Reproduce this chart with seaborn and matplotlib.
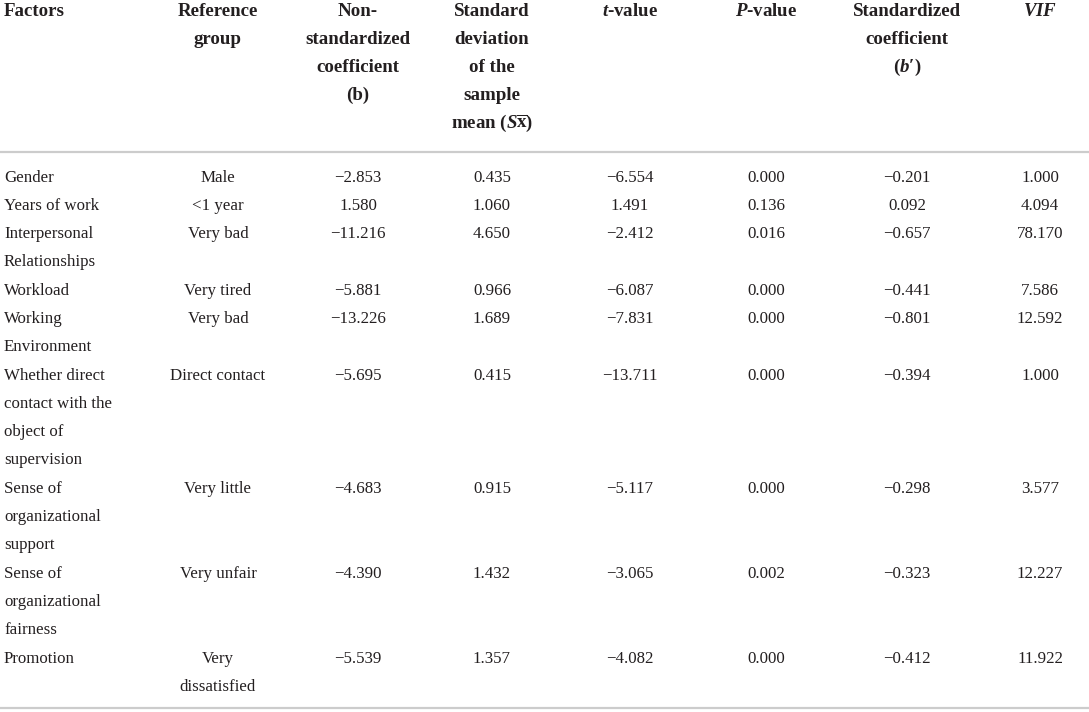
import matplotlib
matplotlib.use("Agg")
import matplotlib.pyplot as plt
import seaborn as sns

sns.set_theme(style="white")
plt.rcParams['font.family'] = ['Liberation Serif', 'DejaVu Serif']
plt.rcParams['mathtext.fontset'] = 'custom'
plt.rcParams['mathtext.rm'] = 'Liberation Serif:bold'
plt.rcParams['mathtext.it'] = 'Liberation Serif:italic:bold'
plt.rcParams['mathtext.bf'] = 'Liberation Serif:bold'

# ---- data ----
headers = [
    "Factors",
    "Reference\ngroup",
    "Non-\nstandardized\ncoefficient\n(b)",
    "Standard\ndeviation\nof the\nsample\nmean ($S\\overline{\\mathrm{x}}$)",
    "$t$-value",
    "$P$-value",
    "Standardized\ncoefficient\n($b$\u2032)",
    "$VIF$",
]
factors = [
    "Gender",
    "Years of work",
    "Interpersonal\nRelationships",
    "Workload",
    "Working\nEnvironment",
    "Whether direct\ncontact with the\nobject of\nsupervision",
    "Sense of\norganizational\nsupport",
    "Sense of\norganizational\nfairness",
    "Promotion",
]
reference_group = [
    "Male", "<1 year", "Very bad", "Very tired", "Very bad",
    "Direct contact", "Very little", "Very unfair", "Very\ndissatisfied",
]
b_coef = [-2.853, 1.580, -11.216, -5.881, -13.226, -5.695, -4.683, -4.390, -5.539]
sd_mean = [0.435, 1.060, 4.650, 0.966, 1.689, 0.415, 0.915, 1.432, 1.357]
t_value = [-6.554, 1.491, -2.412, -6.087, -7.831, -13.711, -5.117, -3.065, -4.082]
p_value = [0.000, 0.136, 0.016, 0.000, 0.000, 0.000, 0.000, 0.002, 0.000]
std_coef = [-0.201, 0.092, -0.657, -0.441, -0.801, -0.394, -0.298, -0.323, -0.412]
vif = [1.000, 4.094, 78.170, 7.586, 12.592, 1.000, 3.577, 12.227, 11.922]

# ---- layout ----
W, H = 1089, 712
fig = plt.figure(figsize=(W / 100, H / 100), dpi=100)
ax = fig.add_axes([0, 0, 1, 1])
ax.set_xlim(0, W)
ax.set_ylim(H, 0)
ax.axis("off")

col_x = [4, 218, 358, 492, 630, 766, 907, 1040]
txt_color = "#231f20"
head_size = 13.6
body_size = 12.2
line_h = 28.3


def fmt(v):
    s = f"{v:.3f}"
    return s.replace("-", "\u2212")


# header
for i, h in enumerate(headers):
    for j, line in enumerate(h.split("\n")):
        ax.text(col_x[i], 16.5 + j * 27.8, line, ha="left" if i == 0 else "center",
                va="baseline", fontsize=head_size, fontweight="bold", color=txt_color)

ax.plot([0, W], [151.5, 151.5], color="#cccccc", lw=1.6, solid_capstyle="butt")

# body
line_idx = 0
for r in range(len(factors)):
    flines = factors[r].split("\n")
    rlines = reference_group[r].split("\n")
    base = 181.5 + line_idx * line_h
    for j, l in enumerate(flines):
        ax.text(col_x[0], base + j * line_h, l, ha="left", va="baseline",
                fontsize=body_size, color=txt_color)
    for j, l in enumerate(rlines):
        ax.text(col_x[1], base + j * line_h, l, ha="center", va="baseline",
                fontsize=body_size, color=txt_color)
    vals = [b_coef[r], sd_mean[r], t_value[r], p_value[r], std_coef[r], vif[r]]
    for k, v in enumerate(vals):
        ax.text(col_x[2 + k], base, fmt(v), ha="center", va="baseline",
                fontsize=body_size, color=txt_color)
    line_idx += max(len(flines), len(rlines))

ax.plot([0, W], [708, 708], color="#cccccc", lw=1.6, solid_capstyle="butt")

fig.savefig("out.png", dpi=100, facecolor="white")
